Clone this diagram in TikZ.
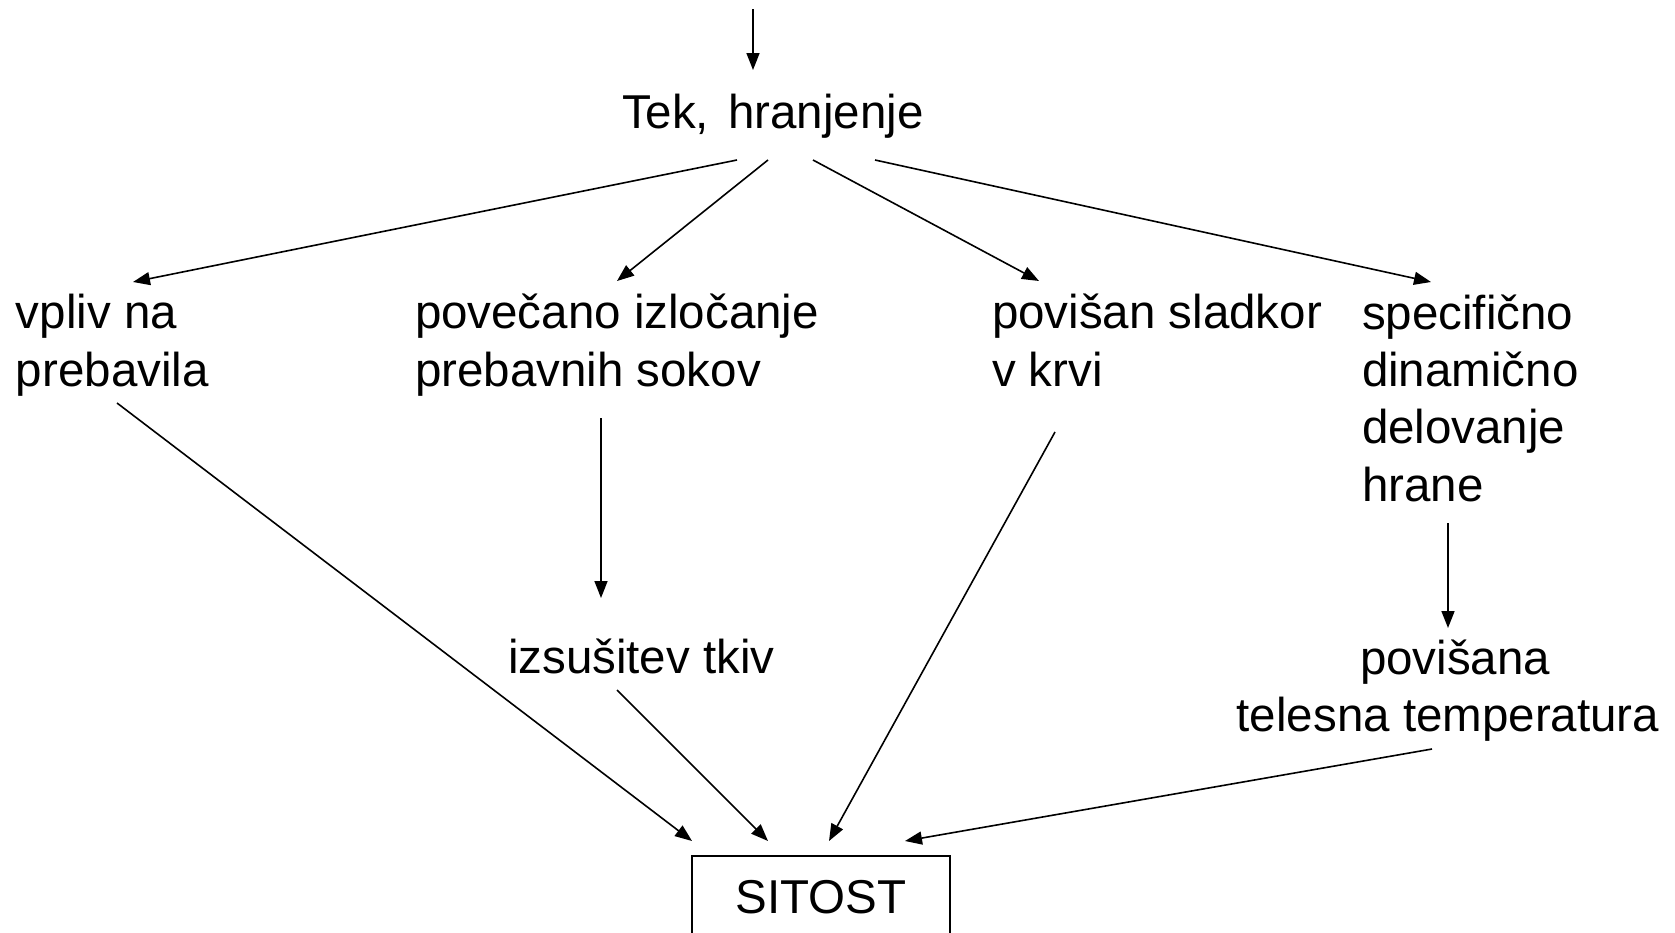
\documentclass[tikz,border=0pt]{standalone}
\usepackage{fontspec}
\setmainfont{Liberation Sans}
\usetikzlibrary{arrows.meta}
\begin{document}
\begin{tikzpicture}[x=0.5pt,y=-0.5pt,
  every node/.style={inner sep=0pt, outer sep=0pt, font=\fontsize{23.75pt}{28.65pt}\selectfont},
  lbl/.style={anchor=base west, align=left},
  arr/.style={line width=0.8pt, -{Triangle[length=8.5pt,width=6.5pt]}},
  boxnode/.style={draw, line width=0.8pt, anchor=north, minimum width=258*0.5pt, minimum height=83*0.5pt}]
\useasboundingbox (0,0) rectangle (1675,932);
\clip (0,0) rectangle (1675,932);
\fill[white] (0,0) rectangle (1675,932);
\coordinate (topin) at (753,9);
\node[lbl] (tek) at (622,128) {Tek,\hspace{0.4em}hranjenje};
\node[lbl] (vpliv) at (16,386) {vpliv na\\prebavila};
\node[lbl] (pov) at (415,386) {povečano izločanje\\prebavnih sokov};
\node[lbl] (slad) at (992,386) {povišan sladkor\\v krvi};
\node[lbl] (spec) at (1362,501) {specifično\\dinamično\\delovanje\\hrane};
\node[lbl] (izs) at (508,673) {izsušitev tkiv};
\node[anchor=base, align=center] (temp) at (1448,731.5) {\hspace*{0.3em}povišana\\telesna temperatura};
\node[boxnode] (sit) at (821,856) {SITOST};
\draw[arr] (topin) -- ([shift={(131,-58)}]tek.base west);
\draw[arr] ([shift={(115,32)}]tek.base west) -- ([shift={(117,-104)}]vpliv.base west);
\draw[arr] ([shift={(146,32)}]tek.base west) -- ([shift={(202,-105)}]pov.base west);
\draw[arr] ([shift={(191,32)}]tek.base west) -- ([shift={(47,-105)}]slad.base west);
\draw[arr] ([shift={(253,32)}]tek.base west) -- ([shift={(69,-219)}]spec.base west);
\draw[arr] ([shift={(186,32)}]pov.base west) -- ([shift={(93,-75)}]izs.base west);
\draw[arr] ([shift={(86,22)}]spec.base west) -- ([shift={(0,-103.5)}]temp.base);
\draw[arr] ([shift={(101,17)}]vpliv.base west) -- ([shift={(-129,-15)}]sit.north);
\draw[arr] ([shift={(109,17)}]izs.base west) -- ([shift={(-53,-15)}]sit.north);
\draw[arr] ([shift={(63,46)}]slad.base west) -- ([shift={(8,-15)}]sit.north);
\draw[arr] ([shift={(-16,17.5)}]temp.base) -- ([shift={(84,-15)}]sit.north);
\end{tikzpicture}
\end{document}
